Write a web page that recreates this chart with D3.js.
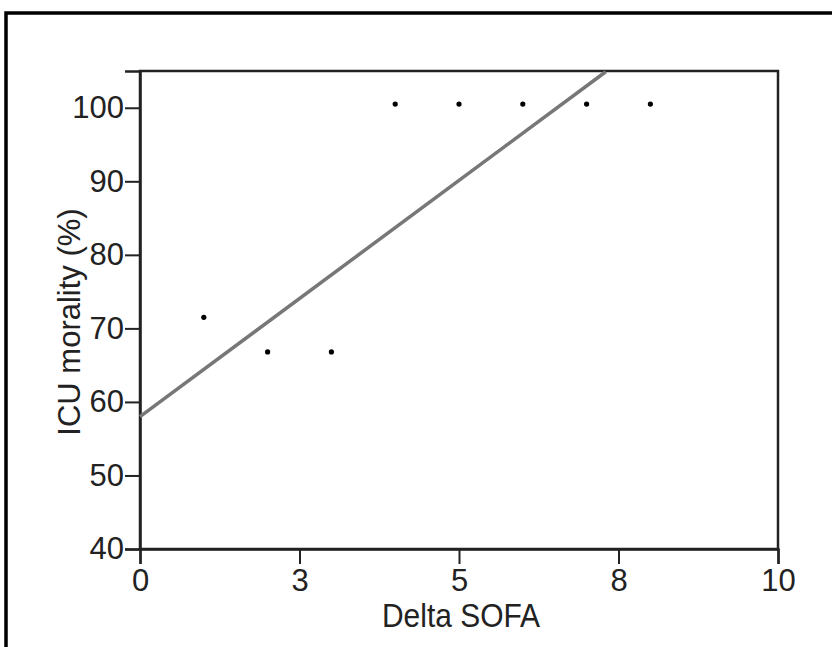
<!DOCTYPE html>
<html>
<head>
<meta charset="utf-8">
<script src="https://cdn.jsdelivr.net/npm/d3@7"></script>
<style>
  body { margin: 0; background: #fff; }
  text { font-family: "Liberation Sans", Arial, sans-serif; fill: #222; }
</style>
</head>
<body>
<div id="chart"></div>
<script>
// data
var deltaSofa = [1, 2, 3, 4, 5, 6, 7, 8];
var mortality = [71.5, 66.8, 66.8, 100.5, 100.5, 100.5, 100.5, 100.5];
var fitX = [0, 7.3];
var fitY = [58, 104.9];
var xTickValues = [0, 2.5, 5, 7.5, 10];
var xTickLabels = ["0", "3", "5", "8", "10"];
var yTickValues = [40, 50, 60, 70, 80, 90, 100];

var W = 832, H = 647;
var plotL = 140, plotR = 778, plotT = 71, plotB = 549;

var svg = d3.select("#chart").append("svg")
  .attr("width", W)
  .attr("height", H);

// outer frame of the figure
svg.append("rect")
  .attr("x", 6).attr("y", 13)
  .attr("width", 900).attr("height", 700)
  .style("fill", "none")
  .style("stroke", "#000")
  .style("stroke-width", 3.5);

var x = d3.scaleLinear().domain([0, 10]).range([plotL, plotR]);
var y = d3.scaleLinear().domain([40, 105]).range([plotB, plotT]);

// box around the plot
svg.append("rect")
  .attr("x", plotL).attr("y", plotT)
  .attr("width", plotR - plotL).attr("height", plotB - plotT)
  .style("fill", "none")
  .style("stroke", "#222")
  .style("stroke-width", 2.5);

var xAxis = svg.append("g")
  .attr("transform", "translate(0," + plotB + ")")
  .call(d3.axisBottom(x)
    .tickValues(xTickValues)
    .tickFormat(function(d, i) { return xTickLabels[i]; })
    .tickSize(15)
    .tickPadding(5));

var yAxis = svg.append("g")
  .attr("transform", "translate(" + plotL + ",0)")
  .call(d3.axisLeft(y)
    .tickValues(yTickValues)
    .tickSize(15)
    .tickPadding(1));

[xAxis, yAxis].forEach(function(ax) {
  ax.select(".domain").style("stroke", "#222").style("stroke-width", 2.5);
  ax.selectAll(".tick line").style("stroke", "#222").style("stroke-width", 2);
  ax.selectAll(".tick text")
    .style("font-family", "'Liberation Sans', Arial, sans-serif")
    .style("font-size", "31px")
    .style("fill", "#222");
});

// regression line
var line = d3.line()
  .x(function(d) { return x(d[0]); })
  .y(function(d) { return y(d[1]); });

svg.append("path")
  .datum(d3.zip(fitX, fitY))
  .attr("d", line)
  .style("fill", "none")
  .style("stroke", "#777")
  .style("stroke-width", 3.5);

// points
svg.selectAll(".pt")
  .data(d3.zip(deltaSofa, mortality))
  .enter().append("circle")
  .attr("class", "pt")
  .attr("cx", function(d) { return x(d[0]); })
  .attr("cy", function(d) { return y(d[1]); })
  .attr("r", 2.6)
  .style("fill", "#000");

// axis titles
svg.append("text")
  .attr("x", 461).attr("y", 627)
  .attr("text-anchor", "middle")
  .attr("textLength", 158)
  .attr("lengthAdjust", "spacingAndGlyphs")
  .style("font-size", "33px")
  .text("Delta SOFA");

svg.append("text")
  .attr("transform", "translate(80,322) rotate(-90)")
  .attr("text-anchor", "middle")
  .style("font-size", "31px")
  .text("ICU  morality (%)");
</script>
</body>
</html>
